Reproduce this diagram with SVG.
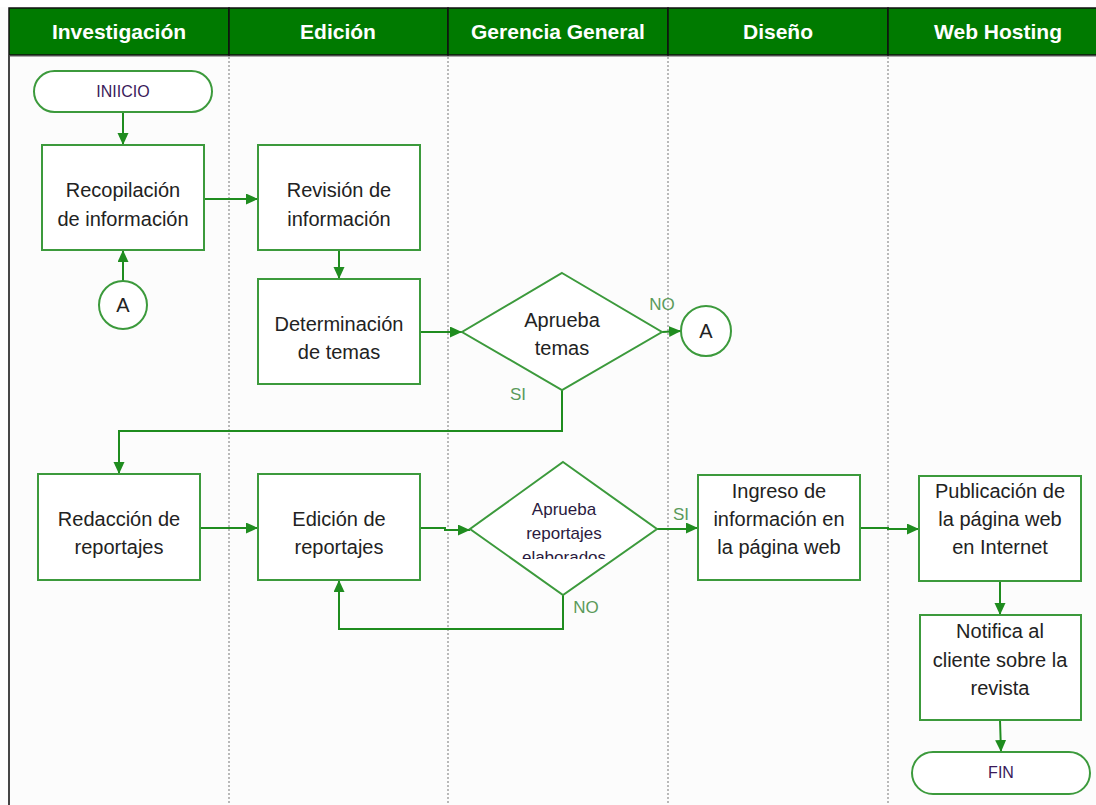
<svg xmlns="http://www.w3.org/2000/svg" width="1096" height="805" viewBox="0 0 1096 805">
<style>
.hdr{fill:#007a00;stroke:#111;stroke-width:1.5}
.ht{font-family:"Liberation Sans",Arial,sans-serif;font-weight:bold;font-size:21px;fill:#fff;text-anchor:middle}
.lane{stroke:#777;stroke-width:1;stroke-dasharray:2,2}
.box{fill:#fff;stroke:#3c9a3c;stroke-width:2}
.t{font-family:"Liberation Sans",Arial,sans-serif;font-size:20px;fill:#222;text-anchor:middle}
.ts{font-family:"Liberation Sans",Arial,sans-serif;font-size:17px;fill:#2a1a40;text-anchor:middle}
.tt{font-family:"Liberation Sans",Arial,sans-serif;font-size:16px;fill:#3a1a5a;text-anchor:middle}
.lbl{font-family:"Liberation Sans",Arial,sans-serif;font-size:17px;fill:#5a9a5a;text-anchor:middle}
.c{fill:none;stroke:#1f8c1f;stroke-width:2;marker-end:url(#ah)}
</style>
<defs>
<marker id="ah" markerWidth="14" markerHeight="14" refX="12" refY="5.5" orient="auto" markerUnits="userSpaceOnUse">
<path d="M0,0 L12,5.5 L0,11 Z" fill="#1f8c1f"/>
</marker>
<clipPath id="d2clip"><rect x="470" y="462" width="190" height="97"/></clipPath>
</defs>
<rect x="0" y="0" width="1096" height="805" fill="#fcfcfc"/>
<rect x="0" y="0" width="1096" height="7" fill="#fff"/>
<g id="header">
<rect class="hdr" x="9" y="8" width="220" height="47"/>
<rect class="hdr" x="229" y="8" width="219" height="47"/>
<rect class="hdr" x="448" y="8" width="220" height="47"/>
<rect class="hdr" x="668" y="8" width="220" height="47"/>
<rect class="hdr" x="888" y="8" width="220" height="47"/>
<line x1="9" y1="56.5" x2="1096" y2="56.5" stroke="#aaa" stroke-width="1"/>
<text class="ht" x="119" y="39">Investigación</text>
<text class="ht" x="338" y="39">Edición</text>
<text class="ht" x="558" y="39">Gerencia General</text>
<text class="ht" x="778" y="39">Diseño</text>
<text class="ht" x="998" y="39">Web Hosting</text>
</g>
<g id="lanes">
<line x1="9" y1="55" x2="9" y2="805" stroke="#444" stroke-width="2"/>
<line class="lane" x1="229" y1="57" x2="229" y2="805"/>
<line class="lane" x1="448" y1="57" x2="448" y2="805"/>
<line class="lane" x1="668" y1="57" x2="668" y2="805"/>
<line class="lane" x1="888" y1="57" x2="888" y2="805"/>
</g>
<g id="connectors">
<path class="c" d="M123,112 L123,145"/>
<path class="c" d="M123,281 L123,250"/>
<path class="c" d="M204,199 L258,199"/>
<path class="c" d="M339,250 L339,279"/>
<path class="c" d="M420,332 L462,332"/>
<path class="c" d="M662,332 L681,331"/>
<path class="c" d="M562,390 L562,431 L119,431 L119,474"/>
<path class="c" d="M200,528 L258,528"/>
<path class="c" d="M420,528 L445,528 L445,530 L470,530"/>
<path class="c" d="M657,529 L690,529 L690,528 L698,528"/>
<path class="c" d="M563,595 L563,629 L339,629 L339,580"/>
<path class="c" d="M860,528 L888,528 L888,529 L919,529"/>
<path class="c" d="M1000,581 L1000,615"/>
<path class="c" d="M1000,720 L1001,752"/>
</g>
<g id="inicio">
<rect class="box" x="34" y="71" width="178" height="41" rx="20.5"/>
<text class="tt" x="123" y="97">INIICIO</text>
</g>
<g id="recopilacion">
<rect class="box" x="42" y="145" width="162" height="105"/>
<text class="t" x="123" y="197">Recopilación</text>
<text class="t" x="123" y="226">de información</text>
</g>
<g id="conectorA1">
<circle class="box" cx="123" cy="305" r="24"/>
<text class="t" x="123" y="312">A</text>
</g>
<g id="revision">
<rect class="box" x="258" y="145" width="162" height="105"/>
<text class="t" x="339" y="197">Revisión de</text>
<text class="t" x="339" y="226">información</text>
</g>
<g id="determinacion">
<rect class="box" x="258" y="279" width="162" height="105"/>
<text class="t" x="339" y="331">Determinación</text>
<text class="t" x="339" y="359">de temas</text>
</g>
<g id="aprueba-temas">
<polygon class="box" points="562,273 662,332 562,390 462,332"/>
<text class="t" x="562" y="327">Aprueba</text>
<text class="t" x="562" y="355">temas</text>
<text class="lbl" x="662" y="310">NO</text>
<text class="lbl" x="518" y="400">SI</text>
</g>
<g id="conectorA2">
<circle class="box" cx="706" cy="331" r="25"/>
<text class="t" x="706" y="338">A</text>
</g>
<g id="redaccion">
<rect class="box" x="38" y="474" width="162" height="106"/>
<text class="t" x="119" y="526">Redacción de</text>
<text class="t" x="119" y="554">reportajes</text>
</g>
<g id="edicion">
<rect class="box" x="258" y="474" width="162" height="106"/>
<text class="t" x="339" y="526">Edición de</text>
<text class="t" x="339" y="554">reportajes</text>
</g>
<g id="aprueba-reportajes">
<polygon class="box" points="563,462 657,529 563,595 470,529"/>
<g clip-path="url(#d2clip)">
<text class="ts" x="564" y="515">Aprueba</text>
<text class="ts" x="564" y="539">reportajes</text>
<text class="ts" x="564" y="563">elaborados</text>
</g>
<text class="lbl" x="586" y="613">NO</text>
<text class="lbl" x="681" y="520">SI</text>
</g>
<g id="ingreso">
<rect class="box" x="698" y="475" width="162" height="105"/>
<text class="t" x="779" y="498">Ingreso de</text>
<text class="t" x="779" y="526">información en</text>
<text class="t" x="779" y="554">la página web</text>
</g>
<g id="publicacion">
<rect class="box" x="919" y="476" width="162" height="105"/>
<text class="t" x="1000" y="498">Publicación de</text>
<text class="t" x="1000" y="526">la página web</text>
<text class="t" x="1000" y="554">en Internet</text>
</g>
<g id="notifica">
<rect class="box" x="920" y="615" width="161" height="105"/>
<text class="t" x="1000" y="638">Notifica al</text>
<text class="t" x="1000" y="667">cliente sobre la</text>
<text class="t" x="1000" y="695">revista</text>
</g>
<g id="fin">
<rect class="box" x="912" y="752" width="178" height="42" rx="21"/>
<text class="tt" x="1001" y="778">FIN</text>
</g>
</svg>
